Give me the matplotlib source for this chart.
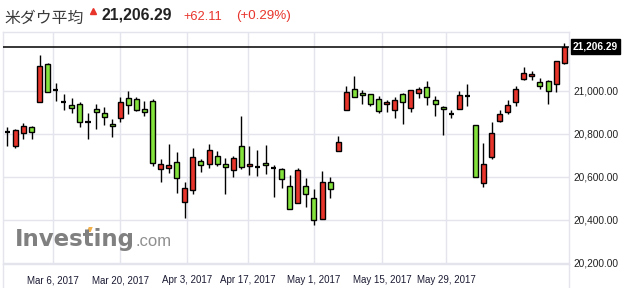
import numpy as np
import matplotlib
matplotlib.use("Agg")
import matplotlib.pyplot as plt
from matplotlib.lines import Line2D
from matplotlib.patches import Polygon
import matplotlib.transforms as mtransforms

# daily OHLC, Feb 23 - Jun 2 2017
opens = [20810, 20746, 20803, 20831, 20950, 21126, 21004, 20951, 20933, 20938,
         20858, 20915, 20896, 20845, 20873, 20966, 20961, 20915, 20952, 20636,
         20643, 20668, 20482, 20540, 20673, 20659, 20696, 20660, 20631, 20744,
         20650, 20649, 20665, 20644, 20636, 20557, 20478, 20557, 20501, 20403,
         20575, 20720, 20910, 21008, 20989, 20985, 20961, 20938, 20910, 20986,
         20922, 20989, 21017, 20957, 20924, 20894, 20918, 20979, 20840, 20574,
         20692, 20862, 20902, 20947, 21057, 21068, 21040, 21045, 21031, 21129]
highs = [20834, 20821, 20850, 20837, 21167, 21129, 21036, 20985, 20966, 20947,
         20896, 20938, 20924, 20868, 20973, 21000, 20973, 20952, 20964, 20684,
         20752, 20715, 20575, 20734, 20684, 20754, 20720, 20688, 20699, 20884,
         20744, 20726, 20749, 20656, 20642, 20609, 20640, 20595, 20544, 20628,
         20600, 20791, 21022, 21070, 21005, 20987, 20977, 20957, 20972, 20991,
         21003, 21020, 21047, 20977, 20930, 20912, 21000, 21033, 20840, 20760,
         20856, 20910, 20958, 21023, 21110, 21092, 21059, 21051, 21138, 21222]
lows = [20746, 20735, 20775, 20778, 20948, 20995, 20955, 20912, 20899, 20834,
        20778, 20823, 20843, 20787, 20857, 20893, 20908, 20884, 20653, 20578,
        20617, 20527, 20411, 20521, 20625, 20643, 20651, 20520, 20601, 20639,
        20611, 20606, 20615, 20508, 20547, 20450, 20478, 20462, 20378, 20403,
        20504, 20720, 20910, 20971, 20938, 20929, 20899, 20904, 20876, 20848,
        20904, 20969, 20935, 20884, 20795, 20873, 20918, 20930, 20601, 20552,
        20684, 20856, 20893, 20932, 21053, 21053, 21011, 20941, 20997, 21127]
closes = [20811, 20819, 20836, 20808, 21116, 20997, 21005, 20950, 20920, 20854,
          20857, 20902, 20878, 20836, 20947, 20933, 20910, 20901, 20664, 20659,
          20657, 20594, 20547, 20694, 20654, 20724, 20659, 20645, 20687, 20645,
          20660, 20648, 20654, 20643, 20591, 20450, 20631, 20520, 20399, 20575,
          20543, 20761, 20994, 20971, 20980, 20938, 20908, 20949, 20957, 20947,
          21003, 21008, 20971, 20938, 20915, 20893, 20981, 20978, 20601, 20660,
          20803, 20893, 20933, 21008, 21082, 21079, 21025, 21001, 21138, 21206.29]

last_price = 21206.29
tick_labels = ["Mar 6, 2017", "Mar 20, 2017", "Apr 3, 2017", "Apr 17, 2017",
               "May 1, 2017", "May 15, 2017", "May 29, 2017"]
tick_pos = [5.66, 13.97, 22.27, 29.83, 38.0, 46.43, 54.36]
y_ticks = [20200, 20400, 20600, 20800, 21000]

UP = "#e8352c"
DOWN = "#84e23c"
GRID = "#e4e4ec"
W, H = 629, 288

plt.rcParams["font.family"] = ["Liberation Sans", "DejaVu Sans"]
fig = plt.figure(figsize=(W / 100, H / 100), dpi=100)
ax = fig.add_axes([3.5 / W, 24 / H, 565.5 / W, 232 / H])

x = np.arange(len(opens))
for i in x:
    o, h, l, c = opens[i], highs[i], lows[i], closes[i]
    ax.vlines(i, l, h, color="black", lw=1, zorder=2)
    if abs(c - o) < 3:
        ax.hlines(c, i - 0.33, i + 0.33, color="black", lw=1.6, zorder=3)
    else:
        col = UP if c > o else DOWN
        ax.bar(i, abs(c - o), bottom=min(o, c), width=0.62, color=col,
               edgecolor="black", linewidth=1, zorder=3)

ax.axhline(last_price, color="black", lw=1.1, zorder=4)

ax.set_xlim(-0.47, 69.6)
ax.set_ylim(20195.3, 21274.4)
ax.set_yticks(y_ticks)
ax.set_yticklabels([f"{v:,.2f}" for v in y_ticks])
ax.yaxis.tick_right()
ax.set_xticks(tick_pos)
ax.set_xticklabels(tick_labels)
ax.tick_params(axis="y", length=0, pad=3, labelsize=7.3, labelcolor="#222222")
ax.tick_params(axis="x", length=0, pad=8.2, labelsize=7, labelcolor="#1a1a33")
ax.grid(True, color=GRID, lw=1, zorder=0)
ax.set_axisbelow(True)
for s in ax.spines.values():
    s.set_color(GRID)
    s.set_linewidth(1)

# borders continue to the bottom of the figure
for px in (3.5, 569):
    fig.add_artist(Line2D([px / W, px / W], [0, 24 / H], color=GRID, lw=1))

# last price tag
trans = mtransforms.blended_transform_factory(ax.transAxes, ax.transData)
ax.text(1.007, last_price, f"{last_price:,.2f}", transform=trans, color="white",
        fontsize=7.3, fontweight="bold", va="center", ha="left",
        bbox=dict(boxstyle="square,pad=0.22", fc="black", ec="black"))

# header
def fx(px):
    return px / W

def fy(py):
    return 1 - py / H

fig.text(fx(4), fy(23), "米ダウ平均", fontsize=11.4, color="#3a3a3a",
         family=["Noto Sans CJK JP", "DejaVu Sans"], va="baseline")
fig.add_artist(Line2D([fx(93)], [fy(10.5)], marker="^", markersize=5,
                      color=UP, lw=0))
fig.text(fx(102), fy(19), f"{last_price:,.2f}", fontsize=11.3,
         fontweight="bold", color="#222222", va="baseline")
fig.text(fx(183), fy(19.5), "+62.11", fontsize=9.3, color=UP, va="baseline")
fig.text(fx(236), fy(19.5), "(+0.29%)", fontsize=9.6, color=UP, va="baseline")

# watermark logo
logo = fig.text(fx(15), fy(246), "Investing", fontsize=16.5, fontweight="bold",
                family="DejaVu Sans", color="#808080", va="baseline")
fig.canvas.draw()
r = fig.canvas.get_renderer()
bb = logo.get_window_extent(r)
part = fig.text(0, 0, "Inves", fontsize=16.5, fontweight="bold",
                family="DejaVu Sans")
tx = bb.x0 + part.get_window_extent(r).width
part.remove()
fig.text(bb.x1 / W + 0.001, fy(246), ".com", fontsize=12, color="#8f8f8f",
         va="baseline")
tpx = tx + 3
fig.add_artist(Polygon([(fx(tpx), fy(232)), (fx(tpx + 4), fy(232)),
                        (fx(tpx + 6), fy(227)), (fx(tpx + 2), fy(227))],
                       closed=True, color="#f2b14c", lw=0))

fig.savefig("out.png", dpi=100)
